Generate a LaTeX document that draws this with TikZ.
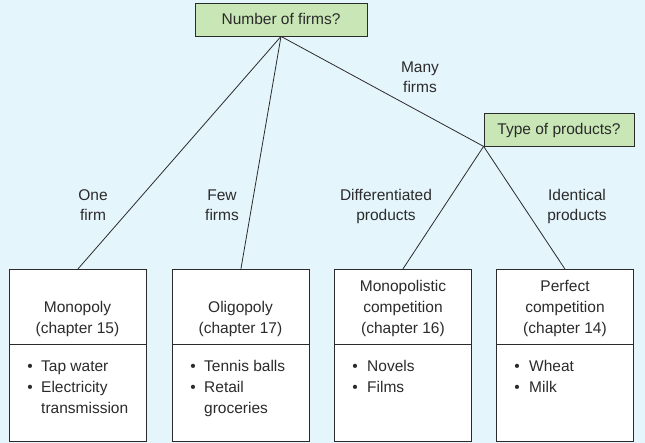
\documentclass[tikz,border=0pt]{standalone}
\usepackage{fontspec}
\setmainfont{Liberation Sans}
\definecolor{bgblue}{HTML}{E5F5FC}
\definecolor{qgreen}{HTML}{C8E6B6}
\definecolor{ink}{HTML}{2B2B2B}
\begin{document}
\begin{tikzpicture}[x=1pt,y=-1pt,
  every node/.style={font=\fontsize{15.5}{21}\selectfont, text=ink},
  question/.style={draw=ink, line width=0.8pt, fill=qgreen, minimum height=33pt, text height=11pt, text depth=0pt, inner sep=0pt},
  marketbox/.style={draw=ink, line width=0.8pt, fill=white, minimum width=137pt, minimum height=172pt, anchor=north west, inner sep=0pt},
  txt/.style={anchor=base, inner sep=0pt},
  itemtxt/.style={anchor=base west, inner sep=0pt},
  conn/.style={draw=ink, line width=0.8pt}]
\fill[bgblue] (0,0) rectangle (645,443);
\useasboundingbox (0,0) rectangle (645,443);

% question boxes
\node[question, minimum width=172pt] (q1) at (281,19.5) {Number of firms?};
\node[question, minimum width=150pt] (q2) at (559,129.5) {Type of products?};

% market boxes
\node[marketbox] (b1) at (9,269) {};
\node[marketbox] (b2) at (172,269) {};
\node[marketbox] (b3) at (334,269) {};
\node[marketbox] (b4) at (496,269) {};
\foreach \b in {b1,b2,b3,b4}{
  \draw[conn] ([yshift=-75pt]\b.north west) -- ([yshift=-75pt]\b.north east);
}

% connectors
\draw[conn] (q1.south) -- (b1.north);
\draw[conn] (q1.south) -- (b2.north);
\draw[conn] (q1.south) -- (q2.south west);
\draw[conn] (q2.south west) -- (b3.north);
\draw[conn] (q2.south west) -- (b4.north);

% branch labels
\node[txt] (l1a) at (93,201) {One};
\node[txt] (l1b) at (93,221) {firm};
\node[txt] (l2a) at (222,201) {Few};
\node[txt] (l2b) at (222,221) {firms};
\node[txt] (l3a) at (420,73) {Many};
\node[txt] (l3b) at (420,93) {firms};
\node[txt] (l4a) at (386,201) {Differentiated};
\node[txt] (l4b) at (386,221) {products};
\node[txt] (l5a) at (577,201) {Identical};
\node[txt] (l5b) at (577,221) {products};

% box titles
\node[txt] (t1a) at (77.5,313) {Monopoly};
\node[txt] (t1b) at (77.5,334) {(chapter 15)};
\node[txt] (t2a) at (240.5,313) {Oligopoly};
\node[txt] (t2b) at (240.5,334) {(chapter 17)};
\node[txt] (t3a) at (403,292) {Monopolistic};
\node[txt] (t3b) at (403,313) {competition};
\node[txt] (t3c) at (403,334) {(chapter 16)};
\node[txt] (t4a) at (565,292) {Perfect};
\node[txt] (t4b) at (565,313) {competition};
\node[txt] (t4c) at (565,334) {(chapter 14)};

% examples
\node[txt] (d1a) at (30,371) {•};
\node[itemtxt] (e1a) at (41,371) {Tap water};
\node[txt] (d1b) at (30,392) {•};
\node[itemtxt] (e1b) at (41,392) {Electricity};
\node[itemtxt] (e1c) at (41,413) {transmission};

\node[txt] (d2a) at (193,371) {•};
\node[itemtxt] (e2a) at (204,371) {Tennis balls};
\node[txt] (d2b) at (193,392) {•};
\node[itemtxt] (e2b) at (204,392) {Retail};
\node[itemtxt] (e2c) at (204,413) {groceries};

\node[txt] (d3a) at (355,371) {•};
\node[itemtxt] (e3a) at (367,371) {Novels};
\node[txt] (d3b) at (355,392) {•};
\node[itemtxt] (e3b) at (367,392) {Films};

\node[txt] (d4a) at (517,371) {•};
\node[itemtxt] (e4a) at (529,371) {Wheat};
\node[txt] (d4b) at (517,392) {•};
\node[itemtxt] (e4b) at (529,392) {Milk};
\end{tikzpicture}
\end{document}
